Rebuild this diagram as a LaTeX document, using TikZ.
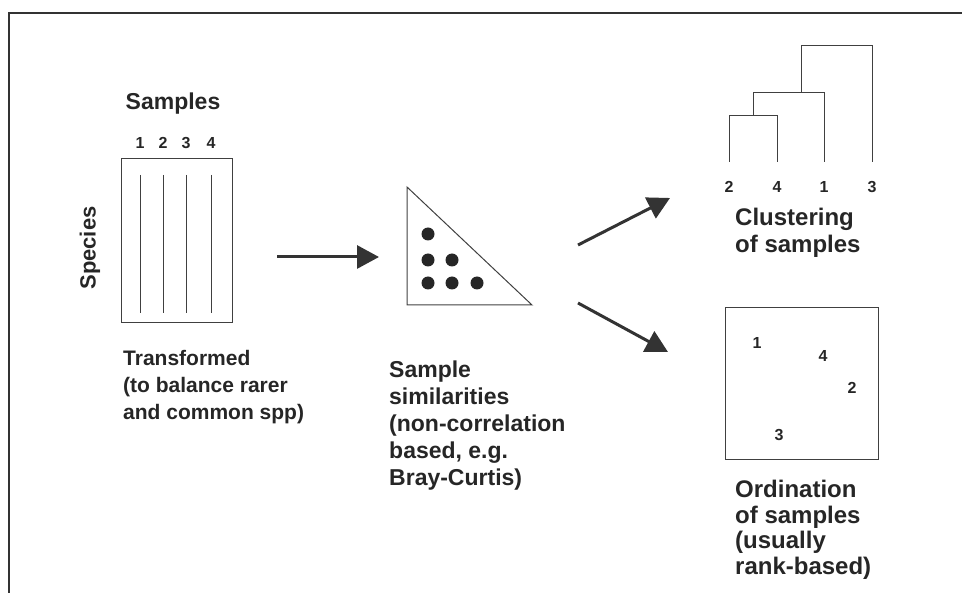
\documentclass[tikz,border=0pt]{standalone}
\usepackage{fontspec}
\setmainfont{Liberation Sans}
\usetikzlibrary{positioning,arrows.meta}

\begin{document}
\begin{tikzpicture}[
    x=1pt,y=-1pt,
    every node/.append style={inner sep=0pt,text=black!85},
    big/.style={font=\bfseries\fontsize{23}{27}\selectfont},
    small/.style={font=\bfseries\fontsize{16}{18}\selectfont},
    caption/.style={align=left,anchor=north west},
    box/.style={draw=black!75,line width=1pt},
    flow/.style={draw=black!80,line width=3pt,-{Triangle[length=22pt,width=23pt]}}
]
\useasboundingbox (0,0) rectangle (962,593);
\draw[black!80,line width=1.8pt] (962,13) -- (9,13) -- (9,593);

% data matrix
\node[big] (samples) at (173,104) {Samples};
\node[box,minimum width=111pt,minimum height=164pt] (mat) at (176.5,241) {};
\foreach \x/\n in {140/1,163/2,186/3,211/4} {
    \node[small] (col\n) at (\x,143) {\n};
    \draw[box] (\x,175) -- (\x,313);
}
\node[big,font=\bfseries\fontsize{22}{27}\selectfont,rotate=90] (species) at (90,248) {Species};
\node[caption,font=\bfseries\fontsize{21}{27}\selectfont] (transf) at (123,350) {Transformed\\(to balance rarer\\and common spp)};

% similarity triangle
\coordinate (t1) at (407,187);
\coordinate (t2) at (407,305);
\coordinate (t3) at (532,305);
\draw[box] (t1) -- (t2) -- (t3) -- cycle;
\foreach \p in {(428,234),(428,260),(452,260),(428,283),(452,283),(477,283)}
    \fill[black!85] \p circle (6.5);
\node[caption,big] (simil) at (389,361) {Sample\\similarities\\(non-correlation\\based, e.g.\\Bray-Curtis)};

% arrows
\coordinate (a0) at (277,257);
\coordinate (a1) at (379,257);
\coordinate (b0) at (578,245);
\coordinate (b1) at (670,198);
\coordinate (c0) at (578,303);
\coordinate (c1) at (668,352);
\draw[flow] (a0) -- (a1);
\draw[flow] (b0) -- (b1);
\draw[flow] (c0) -- (c1);

% dendrogram
\draw[box] (729,162) -- (729,116) -- (777,116) -- (777,162);
\draw[box] (753,116) -- (753,93) -- (824,93) -- (824,162);
\draw[box] (801,93) -- (801,46) -- (872,46) -- (872,162);
\foreach \x/\n in {729/2,777/4,824/1,872/3}
    \node[small] (leaf\n) at (\x,187) {\n};
\node[caption,font=\bfseries\fontsize{24}{27}\selectfont] (clust) at (735,208) {Clustering\\of samples};

% ordination
\node[box,minimum width=153pt,minimum height=152pt] (ord) at (801.5,384) {};
\node[small] (o1) at (757,343) {1};
\node[small] (o4) at (823,356) {4};
\node[small] (o2) at (852,388) {2};
\node[small] (o3) at (779,435) {3};
\node[caption,font=\bfseries\fontsize{24}{25.5}\selectfont] (ordin) at (735,480) {Ordination\\of samples\\(usually\\rank-based)};
\end{tikzpicture}
\end{document}
